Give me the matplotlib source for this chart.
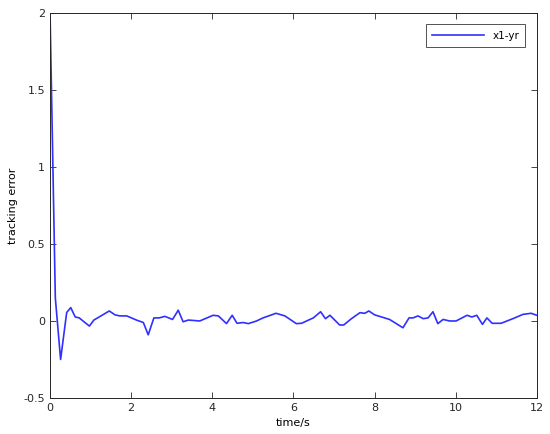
import matplotlib
matplotlib.use("Agg")
import matplotlib.pyplot as plt

# samples
t = [0.0, 0.13, 0.26, 0.41, 0.51, 0.62, 0.72, 0.86, 0.97, 1.08, 1.21, 1.46, 1.6, 1.72,
     1.89, 2.13, 2.3, 2.42, 2.56, 2.69, 2.83, 3.02, 3.16, 3.28, 3.41, 3.69, 4.02, 4.15,
     4.35, 4.49, 4.61, 4.76, 4.89, 5.09, 5.25, 5.57, 5.79, 6.07, 6.2, 6.49, 6.67, 6.79,
     6.9, 7.14, 7.24, 7.43, 7.64, 7.76, 7.86, 8.0, 8.37, 8.7, 8.85, 8.95, 9.07, 9.2,
     9.32, 9.44, 9.56, 9.69, 9.85, 10.01, 10.28, 10.4, 10.52, 10.66, 10.77, 10.9, 11.12,
     11.41, 11.66, 11.86, 12.0]
err = [2.0, 0.15, -0.25, 0.055, 0.087, 0.026, 0.02, -0.01, -0.033, 0.006, 0.026, 0.065,
       0.04, 0.033, 0.033, 0.006, -0.01, -0.09, 0.02, 0.02, 0.03, 0.01, 0.07, -0.005,
       0.006, 0.0, 0.037, 0.033, -0.017, 0.037, -0.015, -0.01, -0.017, 0.0, 0.02, 0.05,
       0.033, -0.017, -0.015, 0.02, 0.06, 0.015, 0.037, -0.026, -0.026, 0.015, 0.054,
       0.05, 0.065, 0.04, 0.01, -0.044, 0.02, 0.02, 0.033, 0.015, 0.02, 0.06, -0.017,
       0.01, 0.0, 0.0, 0.037, 0.026, 0.037, -0.022, 0.02, -0.015, -0.015, 0.015, 0.043,
       0.05, 0.037]

fig = plt.figure(figsize=(5.5, 4.34), dpi=100)
ax = fig.add_axes([0.091, 0.083, 0.885, 0.887])
ax.plot(t, err, color="#3030ff", lw=1.2, label="x1-yr")

ax.set_xlim(0, 12)
ax.set_ylim(-0.5, 2)
ax.set_xticks(range(0, 13, 2))
ax.set_yticks([-0.5, 0, 0.5, 1, 1.5, 2])
ax.set_yticklabels(["-0.5", "0", "0.5", "1", "1.5", "2"])
ax.tick_params(direction="in", labelsize=8, length=4, width=0.6, colors="#262626",
               top=True, right=True)
for s in ax.spines.values():
    s.set_color("#262626")
    s.set_linewidth(0.7)
ax.set_xlabel("time/s", fontsize=8, labelpad=4)
ax.set_ylabel("tracking error", fontsize=8, labelpad=4)

leg = ax.legend(loc="upper right", fontsize=7.5, fancybox=False, handlelength=5,
                borderpad=0.6, borderaxespad=1.1)
leg.get_frame().set_edgecolor("#262626")
leg.get_frame().set_linewidth(0.7)

plt.savefig("out.png", dpi=100)
